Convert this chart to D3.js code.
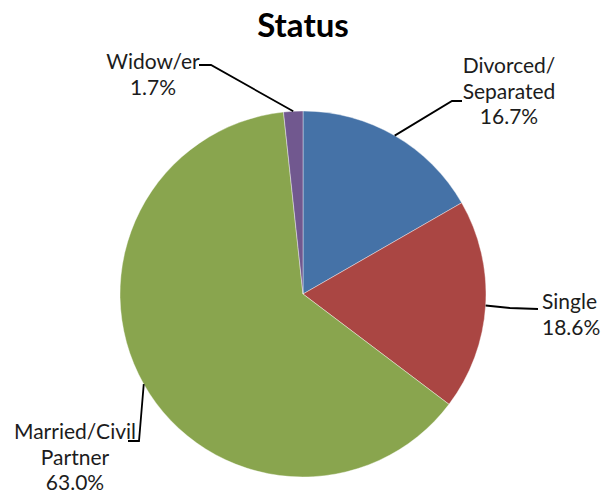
<!DOCTYPE html>
<html>
<head>
<meta charset="utf-8">
<script src="https://cdn.jsdelivr.net/npm/d3@7.9.0/dist/d3.min.js"></script>
<style>
  body { margin: 0; background: #fff; }
  svg text { font-family: Lato, "Open Sans", sans-serif; fill: #1c1c1c; }
</style>
</head>
<body>
<svg id="chart" width="606" height="496"></svg>
<script>
// data
const categories = ['Divorced/Separated', 'Single', 'Married/Civil Partner', 'Widow/er'];
const labelLines = [['Divorced/', 'Separated'], ['Single'], ['Married/Civil', 'Partner'], ['Widow/er']];
const values = [16.7, 18.6, 63.0, 1.7];
const colors = ['#4572A7', '#AA4643', '#89A54E', '#71588F'];

// where each label sits (elbow of the leader, label anchor)
const layout = [
  { elbow: [452, 101], end: [462, 101], x: 509, y: 73, anchor: 'middle' },
  { elbow: [510, 308], end: [538, 309], x: 542, y: 309, anchor: 'start' },
  { elbow: [139, 441], end: [128, 441], x: 75, y: 439, anchor: 'middle' },
  { elbow: [211, 65], end: [199, 65], x: 153, y: 69, anchor: 'middle' }
];

const cx = 303, cy = 294, r = 183;
const svg = d3.select('#chart');

svg.append('text')
  .attr('x', 303).attr('y', 37)
  .attr('text-anchor', 'middle')
  .style('font-size', '33px')
  .style('font-weight', 'bold')
  .style('fill', '#000')
  .text('Status');

let data = categories.map((c, i) => ({ label: c, lines: labelLines[i], value: values[i], color: colors[i] }));

let pie = d3.pie().value(d => d.value).sort(null);
let arcGenerator = d3.arc().innerRadius(0).outerRadius(r);
let arcs = pie(data);

let g = svg.append('g').attr('transform', `translate(${cx},${cy})`);
g.selectAll('path')
  .data(arcs)
  .join('path')
  .attr('d', arcGenerator)
  .attr('fill', d => d.data.color)
  .attr('stroke', '#fff')
  .attr('stroke-width', 0.4);

// leader lines + labels
arcs.forEach((a, i) => {
  let mid = (a.startAngle + a.endAngle) / 2;
  let start = [cx + r * Math.sin(mid), cy - r * Math.cos(mid)];
  let L = layout[i];
  svg.append('path')
    .attr('d', d3.line()([start, L.elbow, L.end]))
    .attr('fill', 'none')
    .attr('stroke', '#000')
    .attr('stroke-width', 1.8);

  let t = svg.append('text')
    .attr('text-anchor', L.anchor)
    .style('font-size', '21px');
  let lines = a.data.lines.concat([a.data.value.toFixed(1) + '%']);
  lines.forEach((ln, k) => {
    t.append('tspan')
      .attr('x', L.x)
      .attr('y', L.y + k * 25.5)
      .text(ln);
  });
});
</script>
</body>
</html>
